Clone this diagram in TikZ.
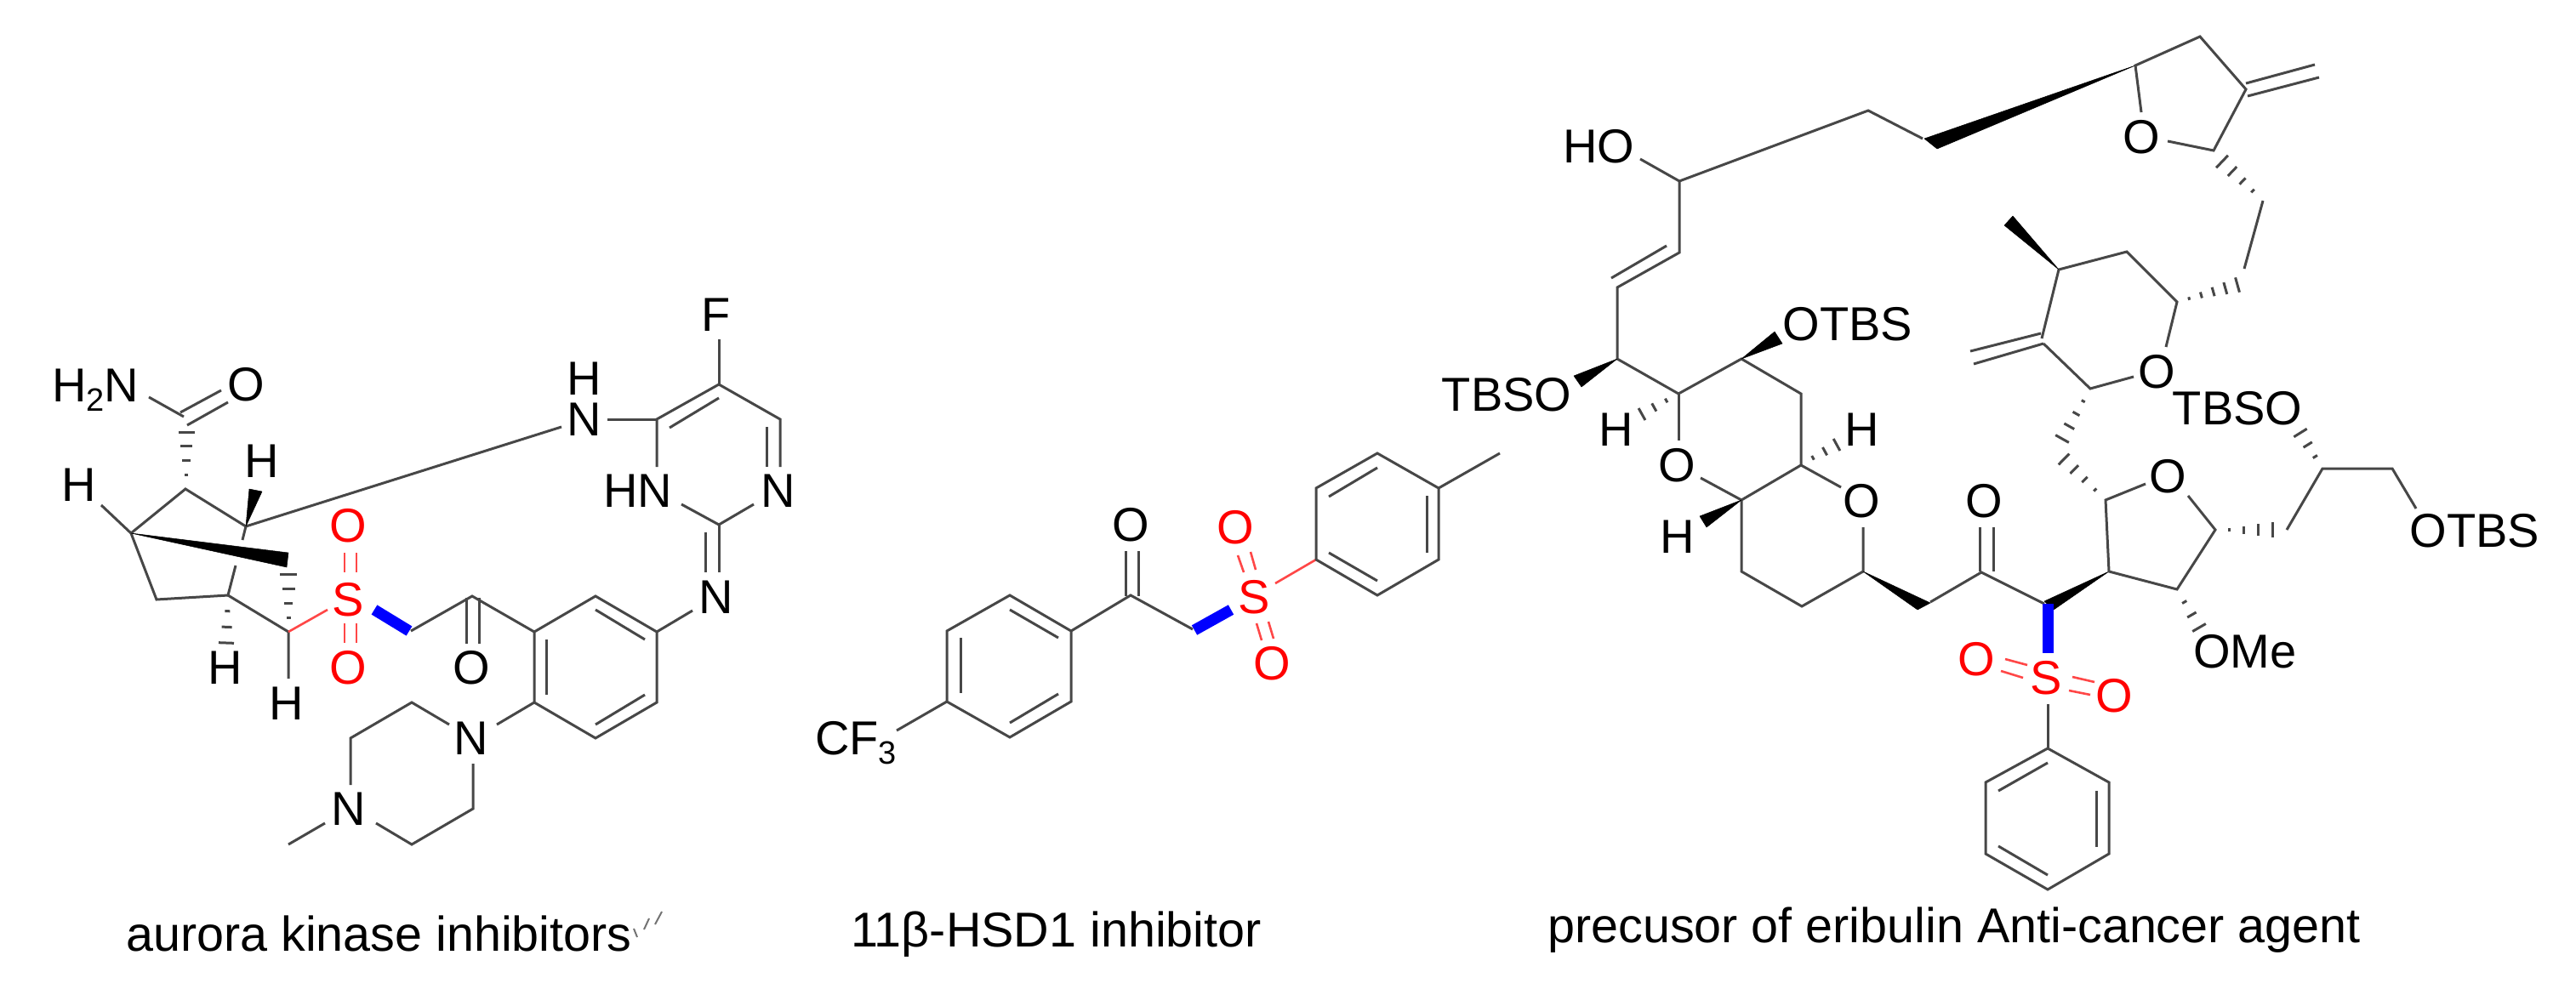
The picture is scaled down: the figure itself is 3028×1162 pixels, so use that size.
\documentclass[tikz,border=0pt]{standalone}
\usepackage{fontspec}
\setmainfont{Liberation Sans}
\usetikzlibrary{calc}
\newcommand{\atomfont}{\fontsize{56}{56}\selectfont}
\newcommand{\capfont}{\fontsize{57.5}{58}\selectfont}
\newcommand{\subfont}{\fontsize{38}{38}\selectfont}
\newcommand{\lowsub}[1]{\raisebox{-11pt}{\subfont #1}}
% hashed stereo bond: narrow end, wide end, half width at the wide end, stripes
\newcommand{\hashbond}[4]{%
  \foreach \i in {1,...,#4}{%
    \pgfmathsetmacro{\tt}{\i/#4}%
    \pgfmathsetmacro{\ww}{\tt*#3}%
    \coordinate (hp) at ($(#1)!\tt!(#2)$);
    \draw[hashline] ($(hp)!\ww pt!90:(#1)$) -- ($(hp)!\ww pt!-90:(#1)$);
  }%
}
\tikzset{
  bond/.style={draw=black!72,line width=3pt,line join=miter},
  hashline/.style={draw=black!72,line width=3pt},
  redbond/.style={draw=red!72,line width=2.6pt},
  blueb/.style={draw=blue,line width=13pt},
  wedge/.style={fill=black,draw=black,line width=.5pt,line join=round},
  atom/.style={inner sep=0pt,font=\atomfont,text=black},
  redatom/.style={atom,text=red},
  caption/.style={inner sep=0pt,anchor=base west,font=\capfont,text=black},
}
\begin{document}
\begin{tikzpicture}[x=1pt,y=-1pt]
\useasboundingbox (0,0) rectangle (3028,1162);

% ---------- aurora kinase inhibitor ----------
\foreach \n/\x/\y in {
 aC/216/490,aNH/175/467,aOa1/212/485,aOa2/260/459,aOb1/220/500,aOb2/268/473,
 aC1/218/575,aC2/154/627,aC3/289/619,aHe/119/594,aNe/660/502,aC3b/285/635,
 aC4t/277/665,aC4/268/700,aC5/184/705,aC6/339/743,aHb/339/798,aSe/385/717,
 aSa1/405/650,aSa2/405/673,aSb1/419/650,aSb2/419/673,
 aSc1/405/733,aSc2/405/756,aSd1/419/733,aSd2/419/756,
 aBl1/440/717,aBl2/481/742,aCH2/483/742,aCO/555/701,
 aCOa1/548/703,aCOa2/548/757,aCOb1/563/703,aCOb2/563/757,
 aR1/628/743,aR2/700/701,aR3/772/743,aR4/772/826,aR5/700/868,aR6/628/826,
 aI1a/700/717,aI1b/758/752,aI2a/642/752,aI2b/642/817,aI3a/758/817,aI3b/700/852,
 aNe2/814/718,aD1a/829/626,aD1b/829/673,aD2a/845/617,aD2b/845/673,
 aPr/886/593,aPl/801/593,aPv1/772/493,aPv2/772/549,aPt/845/452,aPu/917/493,
 aPw/917/549,aPx1/901/502,aPx2/901/549,aPy1/787/503,aPy2/845/468,aFe/845/399,
 aNHe/714/493,
 aQ1/584/852,aQ2/528/852,aQ3/484/826,aQ4/412/868,aQ5/412/923,aQ6/382/968,
 aQ7/339/993,aQ8/442/968,aQ9/484/993,aQ10/556/951,aQ11/556/898,
 aW1/293/575,aW2/308/578,aW3/339/650,aW4/337/667,
 aH1s/219/575,aH1e/219/508,aH2s/339/743,aH2e/339/675,aH3s/268/700,aH3e/266/756,
 aT1a/745/1092,aT1b/749/1102,aT2a/763/1080,aT2b/757/1093,aT3a/778/1072,aT3b/770/1087}
 \coordinate (\n) at (\x,\y);

\node[atom,anchor=base west] (aH2N) at (61,472) {H\lowsub{2}N};
\node[atom] (aO1) at (289,452) {O};
\node[atom] (aHt) at (308,542) {H};
\node[atom] (aHl) at (93,570) {H};
\node[atom] (aHd1) at (265,785) {H};
\node[atom] (aHd2) at (337,827) {H};
\node[redatom] (aS) at (409,705) {S};
\node[redatom] (aOs1) at (409,618) {O};
\node[redatom] (aOs2) at (409,785) {O};
\node[atom] (aO2) at (554,785) {O};
\node[atom] (aF) at (842,370) {F};
\node[atom] (aN1) at (687,493) {N};
\node[atom] (aH4) at (687,445) {H};
\node[atom] (aHN) at (750,577) {HN};
\node[atom] (aN2) at (915,577) {N};
\node[atom] (aN3) at (842,702) {N};
\node[atom] (aN4) at (554,868) {N};
\node[atom] (aN5) at (410,951) {N};

\draw[bond] (aNH) -- (aC);
\draw[bond] (aOa1) -- (aOa2);
\draw[bond] (aOb1) -- (aOb2);
\draw[bond] (aHe) -- (aC2) -- (aC1) -- (aC3) -- (aNe);
\draw[bond] (aC3) -- (aC3b);
\draw[bond] (aC2) -- (aC5) -- (aC4) -- (aC4t);
\draw[bond] (aC4) -- (aC6) -- (aHb);
\draw[redbond] (aC6) -- (aSe);
\draw[redbond] (aSa1) -- (aSa2);
\draw[redbond] (aSb1) -- (aSb2);
\draw[redbond] (aSc1) -- (aSc2);
\draw[redbond] (aSd1) -- (aSd2);
\draw[blueb] (aBl1) -- (aBl2);
\draw[bond] (aCH2) -- (aCO) -- (aR1);
\draw[bond] (aCOa1) -- (aCOa2);
\draw[bond] (aCOb1) -- (aCOb2);
\draw[bond] (aR1) -- (aR2) -- (aR3) -- (aR4) -- (aR5) -- (aR6) -- cycle;
\draw[bond] (aI1a) -- (aI1b);
\draw[bond] (aI2a) -- (aI2b);
\draw[bond] (aI3a) -- (aI3b);
\draw[bond] (aR3) -- (aNe2);
\draw[bond] (aD1a) -- (aD1b);
\draw[bond] (aD2a) -- (aD2b);
\draw[bond] (aPr) -- (aD2a) -- (aPl);
\draw[bond] (aPv2) -- (aPv1) -- (aPt) -- (aPu) -- (aPw);
\draw[bond] (aPx1) -- (aPx2);
\draw[bond] (aPy1) -- (aPy2);
\draw[bond] (aFe) -- (aPt);
\draw[bond] (aNHe) -- (aPv1);
\draw[bond] (aR6) -- (aQ1);
\draw[bond] (aQ2) -- (aQ3) -- (aQ4) -- (aQ5);
\draw[bond] (aQ6) -- (aQ7);
\draw[bond] (aQ8) -- (aQ9) -- (aQ10) -- (aQ11);
\fill[wedge] (aC3) -- (aW1) -- (aW2) -- cycle;
\fill[wedge] (aC2) -- (aW3) -- (aW4) -- cycle;
\hashbond{aH1s}{aH1e}{9.5}{4}
\hashbond{aH2s}{aH2e}{10}{4}
\hashbond{aH3s}{aH3e}{9}{3}
\draw[draw=black!55,line width=2pt] (aT1a) -- (aT1b);
\draw[draw=black!55,line width=2pt] (aT2a) -- (aT2b);
\draw[draw=black!55,line width=2pt] (aT3a) -- (aT3b);
\node[caption] (cap1) at (148,1118) {aurora kinase inhibitors};

% ---------- 11beta-HSD1 inhibitor ----------
\foreach \n/\x/\y in {
 bCe/1054/859,bR1/1113/825,bR2/1113/742,bR3/1187/700,bR4/1259/742,bR5/1259/825,bR6/1187/867,
 bI1a/1129/750,bI1b/1129/815,bI2a/1187/717,bI2b/1244/750,bI3a/1187/850,bI3b/1244/816,
 bCO/1329/700,bCH2/1402/740,bOa1/1323/648,bOa2/1323/701,bOb1/1338/648,bOb2/1338/701,
 bBl1/1404/741,bBl2/1447/717,
 bDa1/1455/653,bDa2/1462/673,bDb1/1470/649,bDb2/1476/670,
 bDc1/1477/733,bDc2/1483/753,bDd1/1491/731,bDd2/1497/751,bSe/1499/686,
 bT1/1547/658,bT2/1547/574,bT3/1619/533,bT4/1691/574,bT5/1691/658,bT6/1619/700,bMe/1763/533,
 bJ1a/1562/584,bJ1b/1619/550,bJ2a/1677/583,bJ2b/1677/650,bJ3a/1562/650,bJ3b/1619/683}
 \coordinate (\n) at (\x,\y);

\node[atom,anchor=base west] (bCF) at (958,887) {CF\lowsub{3}};
\node[atom] (bO) at (1329,617) {O};
\node[redatom] (bS) at (1474,702) {S};
\node[redatom] (bO1) at (1452,620) {O};
\node[redatom] (bO2) at (1495,780) {O};

\draw[bond] (bCe) -- (bR1);
\draw[bond] (bR1) -- (bR2) -- (bR3) -- (bR4) -- (bR5) -- (bR6) -- cycle;
\draw[bond] (bI1a) -- (bI1b);
\draw[bond] (bI2a) -- (bI2b);
\draw[bond] (bI3a) -- (bI3b);
\draw[bond] (bR4) -- (bCO) -- (bCH2);
\draw[bond] (bOa1) -- (bOa2);
\draw[bond] (bOb1) -- (bOb2);
\draw[blueb] (bBl1) -- (bBl2);
\draw[redbond] (bDa1) -- (bDa2);
\draw[redbond] (bDb1) -- (bDb2);
\draw[redbond] (bDc1) -- (bDc2);
\draw[redbond] (bDd1) -- (bDd2);
\draw[redbond] (bSe) -- (bT1);
\draw[bond] (bT1) -- (bT2) -- (bT3) -- (bT4) -- (bT5) -- (bT6) -- cycle;
\draw[bond] (bT4) -- (bMe);
\draw[bond] (bJ1a) -- (bJ1b);
\draw[bond] (bJ2a) -- (bJ2b);
\draw[bond] (bJ3a) -- (bJ3b);
\node[caption] (cap2) at (1000,1113) {11β-HSD1 inhibitor};

% ---------- eribulin precursor ----------
\foreach \n/\x/\y in {
 cHOe/1928/187,cA/1974/213,cB/2196/130,cC/2260/163,cD/1974/297,cE/1901/338,
 cEa/1959/289,cEb/1894/327,cF/1901/422,cG/1973/463,cH/2047/422,cI/2117/463,
 cJ/2117/547,cGo/1973/518,cOre/2164/573,cK/2047/588,cOle/1999/562,cL/2047/672,
 cM/2118/713,cN/2190/672,cNo/2190/620,
 cW1a/1850/442,cW1b/1859/455,cW2a/2086/390,cW2b/2095/404,cW3a/1998/607,cW3b/2006/620,
 cW4a/2254/717,cW4b/2269/709,cP/2269/708,cQ/2329/673,
 cQa1/2327/620,cQa2/2327/672,cQb1/2343/620,cQb2/2343/672,cR/2403/710,
 cW5a/2403/707,cW5b/2414/717,cS/2479/672,
 cBl1/2407/710,cBl2/2407/768,
 cDa1/2357/775,cDa2/2383/782,cDb1/2352/789,cDb2/2378/797,
 cDc1/2436/796,cDc2/2462/802,cDd1/2432/812,cDd2/2457/817,
 cSe/2407/828,cU1/2407/880,cU2/2479/920,cU3/2479/1004,cU4/2407/1046,cU5/2334/1004,cU6/2334/920,
 cV1a/2407/897,cV1b/2349/930,cV2a/2464/930,cV2b/2464/996,cV3a/2349/995,cV3b/2407/1029,
 cX1/2475/588,cX1o/2522/569,cX2/2559/693,cX3/2604/623,cX3o/2572/583,
 cY1/2688/623,cY2/2730/551,cY3/2812/551,cY4/2840/598,
 cH1s/1973/463,cH1e/1930/487,cH2s/2117/546,cH2e/2159/523,
 cHa1/2559/355,cHa2/2630/335,cHb1/2660/236,cHb2/2612/190,
 cHc1/2457/457,cHc2/2424/516,cHd1/2475/588,cHd2/2426/540,
 cHe1/2604/623,cHe2/2671/623,cHf1/2730/551,cHf2/2704/509,cHg1/2559/693,cHg2/2585/738,
 cZ1/2457/457,cZ1o/2508/443,cZ2/2402/404,cZ3/2400/398,cZ4/2420/317,cZ5/2500/296,cZ6/2559/355,cZ6o/2546/408,
 cEx1a/2316/413,cEx1b/2399/392,cEx2a/2320/428,cEx2b/2402/404,
 cWm1/2366/254,cWm2/2356/265,cWt1/2262/163,cWt2/2277/175,
 cT1/2510/77,cT2/2586/43,cT3/2640/105,cT4/2602/177,cT1o/2517/132,cT4o/2548/166,
 cFa1/2640/98,cFa2/2721/76,cFb1/2642/113,cFb2/2726/91,
 cLink1/2638/316,cLink2/2660/236}
 \coordinate (\n) at (\x,\y);

\node[atom] (cHO) at (1879,172) {HO};
\node[atom] (cTBSO1) at (1771,464) {TBSO};
\node[atom] (cOTBS1) at (2172,381) {OTBS};
\node[atom] (cHl) at (1900,505) {H};
\node[atom] (cHr) at (2189,505) {H};
\node[atom] (cOa) at (1971,547) {O};
\node[atom] (cOb) at (2188,589) {O};
\node[atom] (cHu) at (1972,631) {H};
\node[atom] (cOk) at (2332,589) {O};
\node[redatom] (cSs) at (2405,797) {S};
\node[redatom] (cOs1) at (2323,775) {O};
\node[redatom] (cOs2) at (2485,818) {O};
\node[atom] (cOf) at (2548,560) {O};
\node[atom] (cOTBS2) at (2909,624) {OTBS};
\node[atom] (cTBSO2) at (2630,480) {TBSO};
\node[atom] (cOMe) at (2639,766) {OMe};
\node[atom] (cOp) at (2535,437) {O};
\node[atom] (cOt) at (2517,161) {O};

\draw[bond] (cHOe) -- (cA) -- (cB) -- (cC);
\draw[bond] (cA) -- (cD) -- (cE) -- (cF) -- (cG) -- (cH) -- (cI) -- (cJ);
\draw[bond] (cEa) -- (cEb);
\draw[bond] (cG) -- (cGo);
\draw[bond] (cOre) -- (cJ) -- (cK) -- (cOle);
\draw[bond] (cK) -- (cL) -- (cM) -- (cN) -- (cNo);
\fill[wedge] (cF) -- (cW1a) -- (cW1b) -- cycle;
\fill[wedge] (cH) -- (cW2a) -- (cW2b) -- cycle;
\fill[wedge] (cK) -- (cW3a) -- (cW3b) -- cycle;
\fill[wedge] (cN) -- (cW4a) -- (cW4b) -- cycle;
\draw[bond] (cP) -- (cQ) -- (cR);
\draw[bond] (cQa1) -- (cQa2);
\draw[bond] (cQb1) -- (cQb2);
\fill[wedge] (cS) -- (cW5a) -- (cW5b) -- cycle;
\draw[blueb] (cBl1) -- (cBl2);
\draw[redbond] (cDa1) -- (cDa2);
\draw[redbond] (cDb1) -- (cDb2);
\draw[redbond] (cDc1) -- (cDc2);
\draw[redbond] (cDd1) -- (cDd2);
\draw[bond] (cSe) -- (cU1);
\draw[bond] (cU1) -- (cU2) -- (cU3) -- (cU4) -- (cU5) -- (cU6) -- cycle;
\draw[bond] (cV1a) -- (cV1b);
\draw[bond] (cV2a) -- (cV2b);
\draw[bond] (cV3a) -- (cV3b);
\draw[bond] (cX1o) -- (cX1) -- (cS) -- (cX2) -- (cX3) -- (cX3o);
\draw[bond] (cY4) -- (cY3) -- (cY2) -- (cY1);
\draw[bond] (cZ1o) -- (cZ1) -- (cZ2);
\draw[bond] (cZ3) -- (cZ4) -- (cZ5) -- (cZ6) -- (cZ6o);
\draw[bond] (cEx1a) -- (cEx1b);
\draw[bond] (cEx2a) -- (cEx2b);
\fill[wedge] (cZ4) -- (cWm1) -- (cWm2) -- cycle;
\fill[wedge] (cT1) -- (cWt1) -- (cWt2) -- cycle;
\draw[bond] (cT1o) -- (cT1) -- (cT2) -- (cT3) -- (cT4) -- (cT4o);
\draw[bond] (cFa1) -- (cFa2);
\draw[bond] (cFb1) -- (cFb2);
\draw[bond] (cLink1) -- (cLink2);
\hashbond{cH1s}{cH1e}{8}{3}
\hashbond{cH2s}{cH2e}{8}{3}
\hashbond{cHa1}{cHa2}{9}{5}
\hashbond{cHb1}{cHb2}{10}{4}
\hashbond{cHc1}{cHc2}{9}{4}
\hashbond{cHd1}{cHd2}{9}{4}
\hashbond{cHe1}{cHe2}{9}{4}
\hashbond{cHf1}{cHf2}{9}{3}
\hashbond{cHg1}{cHg2}{9}{3}
\node[caption] (cap3) at (1819,1108) {precusor of eribulin Anti-cancer agent};
\end{tikzpicture}
\end{document}
